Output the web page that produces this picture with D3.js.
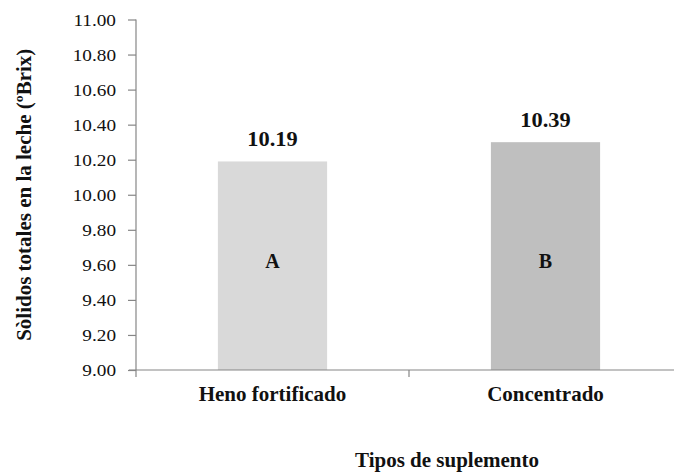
<!DOCTYPE html>
<html>
<head>
<meta charset="utf-8">
<script src="https://cdn.jsdelivr.net/npm/d3@7"></script>
</head>
<body style="margin:0;background:#fff">
<svg id="chart" width="674" height="475" font-family="Liberation Serif" style="display:block"></svg>
<script>
// ---- data ----
const categories = ["Heno fortificado", "Concentrado"];
const values = [10.19, 10.30];
const valueLabels = ["10.19", "10.39"];
const groupLetters = ["A", "B"];
const barColors = ["#d9d9d9", "#bfbfbf"];
const yTicks = [9.0, 9.2, 9.4, 9.6, 9.8, 10.0, 10.2, 10.4, 10.6, 10.8, 11.0];
const yDomain = [9, 11];
const yTitle = "Sòlidos totales en la leche (ºBrix)";
const xTitle = "Tipos de suplemento";
const letterLevel = 9.6;

// ---- layout ----
const FONT = "Liberation Serif";
const TXT = "#111";
const svg = d3.select("#chart");
const mLeft = 136, mRight = 682, mTop = 19.5, mBottom = 370;
const axisColor = "#868686";

const y = d3.scaleLinear().domain(yDomain).range([mBottom, mTop]);
const x = d3.scaleBand().domain(categories).range([mLeft, mRight])
  .paddingInner(0.6).paddingOuter(0.3);

// bars
svg.append("g").selectAll("rect").data(categories).join("rect")
  .attr("x", d => x(d))
  .attr("width", x.bandwidth())
  .attr("y", (d, i) => y(values[i]))
  .attr("height", (d, i) => y(yDomain[0]) - y(values[i]))
  .attr("fill", (d, i) => barColors[i]);

// y axis
const yAxis = svg.append("g").attr("transform", `translate(${mLeft},0)`)
  .call(d3.axisLeft(y).tickValues(yTicks).tickFormat(d3.format(".2f")).tickSize(8).tickPadding(0));
yAxis.attr("font-family", FONT).attr("font-size", 17.5);
yAxis.select(".domain").attr("stroke", axisColor).attr("d", `M0,${mTop}V${mBottom}`).attr("stroke-width", 1.2);
yAxis.selectAll(".tick line").attr("stroke", axisColor).attr("stroke-width", 1.2);
yAxis.selectAll(".tick text")
  .attr("x", null)
  .attr("dy", "0.34em")
  .attr("transform", "translate(-20,0) scale(1.1,1)")
  .attr("text-anchor", "end")
  .attr("fill", TXT)
  .attr("font-family", FONT)
  .style("font-family", FONT)
  .style("font-size", "17.5px");

// x axis
const xAxis = svg.append("g").attr("transform", `translate(0,${mBottom})`)
  .call(d3.axisBottom(x).tickSize(0).tickFormat(""));
xAxis.attr("font-family", FONT);
xAxis.select(".domain").attr("stroke", axisColor).attr("stroke-width", 1.2)
  .attr("d", `M${mLeft - 7},0H${mRight}`);
xAxis.selectAll(".tick").remove();
// boundary ticks between categories
const boundaries = [mLeft, (x(categories[0]) + x.bandwidth() + x(categories[1])) / 2, mRight];
xAxis.selectAll("line.bt").data(boundaries).join("line")
  .attr("class", "bt")
  .attr("x1", d => d).attr("x2", d => d)
  .attr("y1", 0).attr("y2", 7)
  .attr("stroke", axisColor).attr("stroke-width", 1.2);

function styleText(sel, size) {
  return sel.attr("fill", TXT)
    .attr("font-family", FONT)
    .attr("font-size", size)
    .attr("font-weight", "bold")
    .style("font-family", FONT)
    .style("font-size", size + "px")
    .style("font-weight", "bold");
}

// category labels
styleText(svg.append("g").selectAll("text").data(categories).join("text")
  .attr("x", d => x(d) + x.bandwidth() / 2)
  .attr("y", mBottom + 31)
  .attr("text-anchor", "middle")
  .text(d => d), 21);

// value labels
styleText(svg.append("g").selectAll("text").data(categories).join("text")
  .attr("transform", (d, i) => `translate(${x(d) + x.bandwidth() / 2},${y(values[i]) - 15}) scale(1.12,1)`)
  .attr("text-anchor", "middle")
  .text((d, i) => valueLabels[i]), 20);

// group letters
styleText(svg.append("g").selectAll("text").data(categories).join("text")
  .attr("x", d => x(d) + x.bandwidth() / 2)
  .attr("y", y(letterLevel) + 3)
  .attr("text-anchor", "middle")
  .text((d, i) => groupLetters[i]), 20);

// y title
styleText(svg.append("text")
  .attr("transform", `translate(31,${(mTop + mBottom) / 2}) rotate(-90)`)
  .attr("text-anchor", "middle")
  .text(yTitle), 21);

// x title
styleText(svg.append("text")
  .attr("x", 447)
  .attr("y", 467)
  .attr("text-anchor", "middle")
  .text(xTitle), 21);
</script>
</body>
</html>
